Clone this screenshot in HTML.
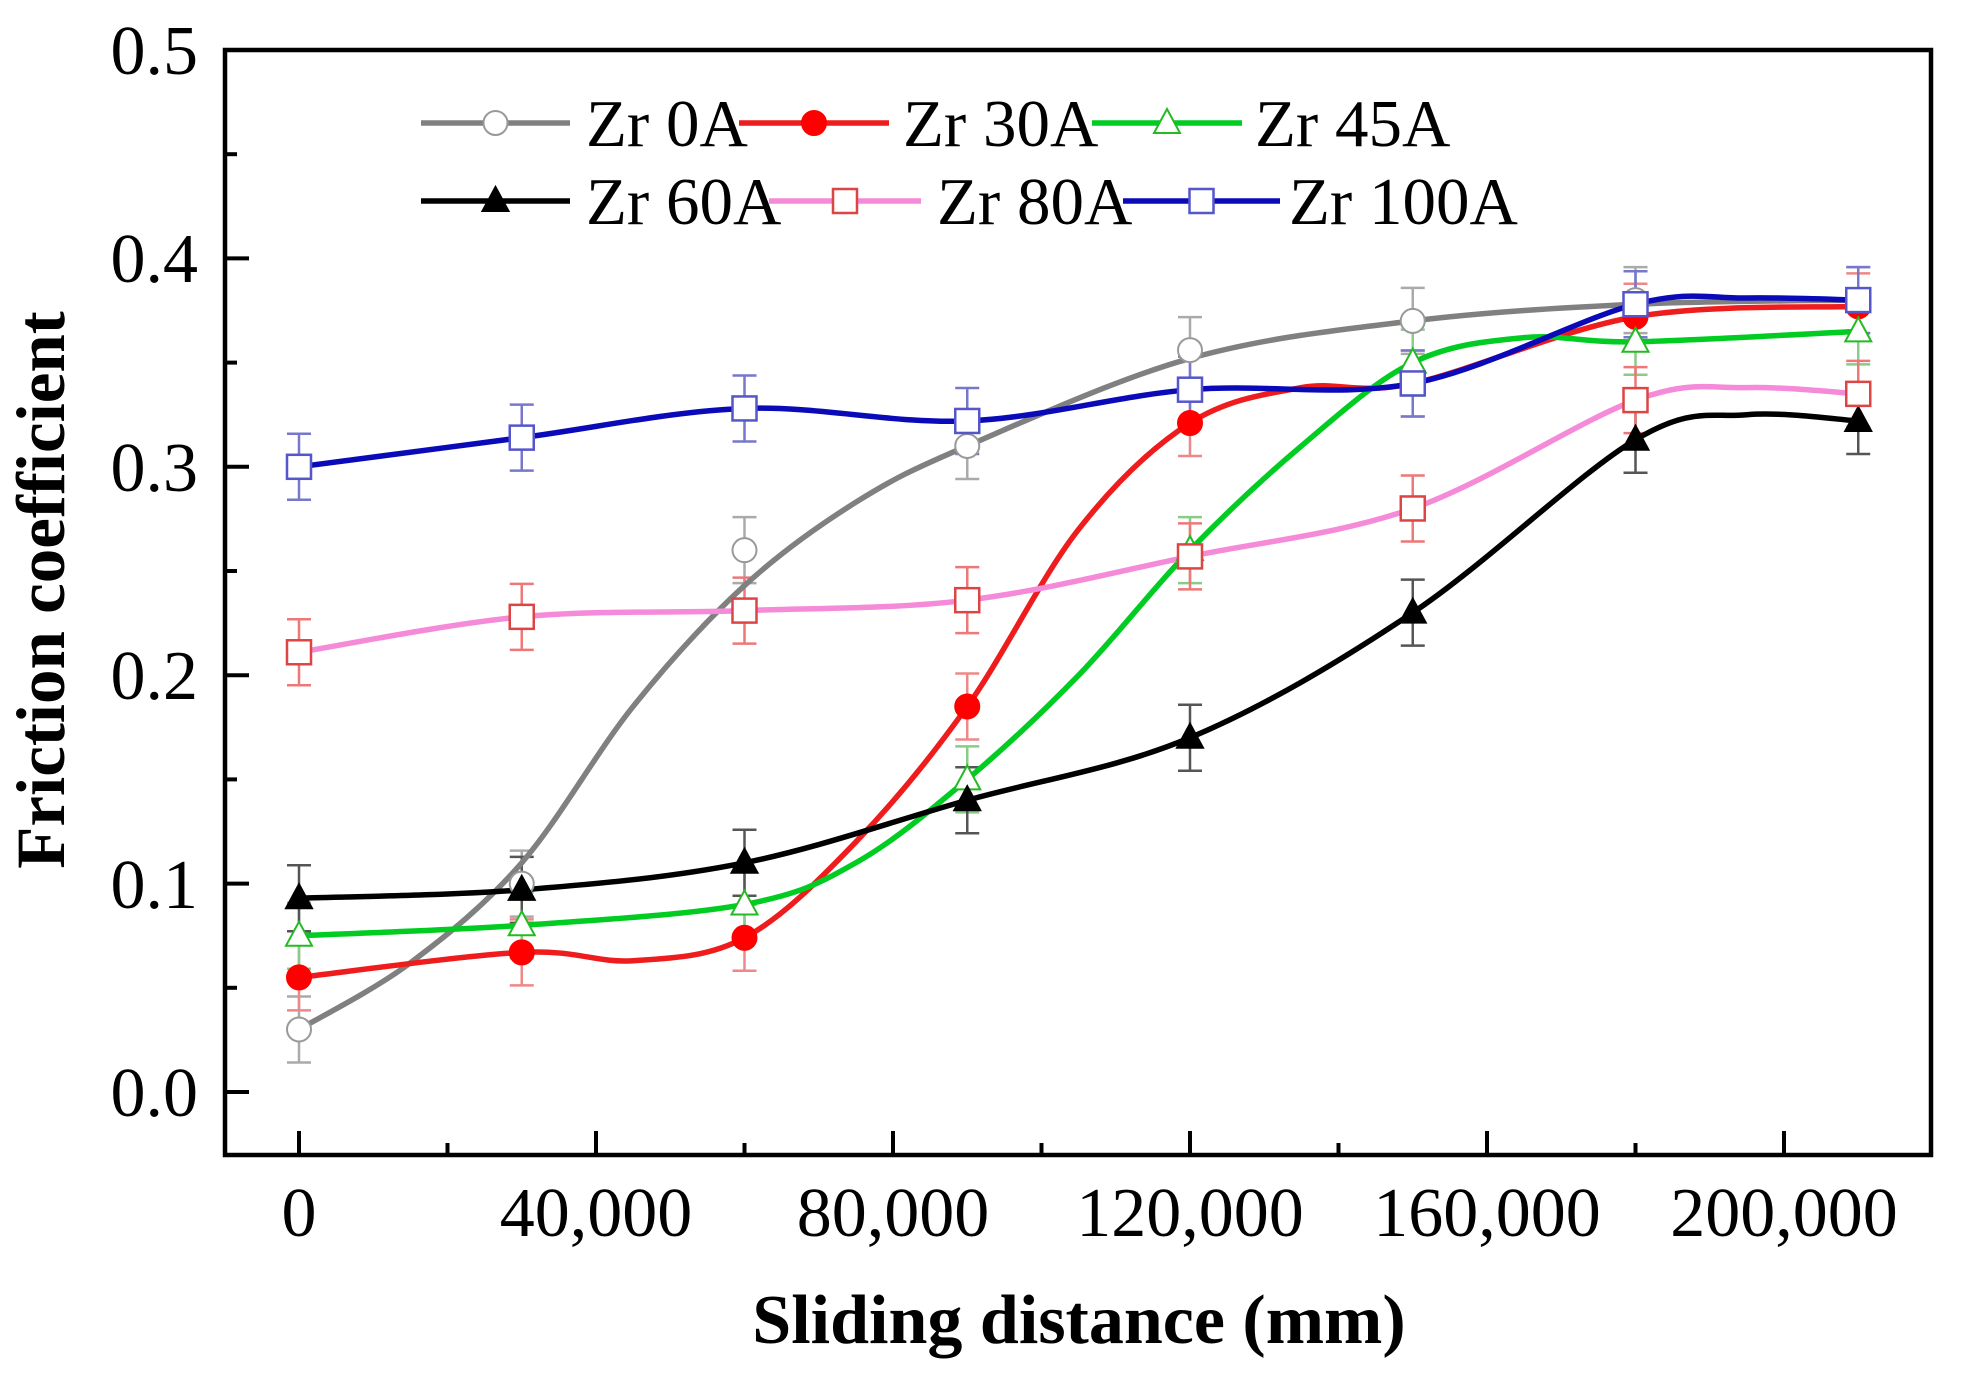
<!DOCTYPE html>
<html><head><meta charset="utf-8"><style>
html,body{margin:0;padding:0;background:#fff;}
svg{display:block;}
text{font-family:"Liberation Serif",serif;fill:#000;}
</style></head><body>
<svg id="s" width="1967" height="1389" viewBox="0 0 1967 1389" xmlns="http://www.w3.org/2000/svg">
<g id="err"></g><g id="lines"></g><g id="marks"></g>
<rect x="225" y="50" width="1706" height="1105" fill="none" stroke="#000" stroke-width="4.5"/>
<g id="ticks" stroke="#000" stroke-width="4"></g>
<g font-size="70" text-anchor="end">
<text x="198" y="1116">0.0</text><text x="198" y="908">0.1</text><text x="198" y="699">0.2</text>
<text x="198" y="491">0.3</text><text x="198" y="282">0.4</text><text x="198" y="74">0.5</text>
</g>
<g font-size="70" text-anchor="middle">
<text x="299" y="1236">0</text><text x="596" y="1236">40,000</text><text x="893" y="1236">80,000</text>
<text x="1190" y="1236">120,000</text><text x="1487" y="1236">160,000</text><text x="1784" y="1236">200,000</text>
</g>
<text x="1079" y="1343" font-size="70" font-weight="bold" text-anchor="middle">Sliding distance (mm)</text>
<text transform="translate(64,590) rotate(-90)" font-size="69" font-weight="bold" text-anchor="middle">Friction coefficient</text>
<g id="leg"></g>
<g font-size="67">
<text x="586" y="146">Zr 0A</text><text x="903" y="146">Zr 30A</text><text x="1255" y="146">Zr 45A</text>
<text x="586" y="224">Zr 60A</text><text x="937" y="224">Zr 80A</text><text x="1289" y="224">Zr 100A</text>
</g>
</svg>
<script>
const NS="http://www.w3.org/2000/svg";
const X=d=>299+d*297/40000, Y=v=>1092-v*2084;
function el(p,t,a){const e=document.createElementNS(NS,t);for(const k in a)e.setAttribute(k,a[k]);document.getElementById(p).appendChild(e);return e;}
function spline(pts){let d="M"+pts[0][0]+","+pts[0][1];for(let i=0;i<pts.length-1;i++){const p0=pts[Math.max(0,i-1)],p1=pts[i],p2=pts[i+1],p3=pts[Math.min(pts.length-1,i+2)];
const c1=[p1[0]+(p2[0]-p0[0])/6,p1[1]+(p2[1]-p0[1])/6],c2=[p2[0]-(p3[0]-p1[0])/6,p2[1]-(p3[1]-p1[1])/6];d+=` C${c1[0]},${c1[1]} ${c2[0]},${c2[1]} ${p2[0]},${p2[1]}`;}return d;}
function marker(g,type,x,y,col,fill){const r=12;
 if(type=="c")el(g,"circle",{cx:x,cy:y,r:r,fill:fill,stroke:col,"stroke-width":2});
 else if(type=="s")el(g,"rect",{x:x-r,y:y-r,width:2*r,height:2*r,fill:fill,stroke:col,"stroke-width":2.5});
 else el(g,"polygon",{points:`${x},${y-r-2} ${x+r+1},${y+r-2} ${x-r-1},${y+r-2}`,fill:fill,stroke:col,"stroke-width":2});}
const xs=[0,30000,60000,90000,120000,150000,180000,210000];
const S=[
 {c:"#808080",m:"c",mc:"#999",f:"#fff",ec:"#aaa",v:[.03,.10,.26,.31,.356,.37,.38,.38],
  cur:[[0,.03],[15000,.062],[30000,.11],[45000,.185],[60000,.243],[75000,.283],[90000,.31],[120000,.352],[150000,.37],[180000,.378],[210000,.38]]},
 {c:"#ee1c1c",m:"c",mc:"#f00",f:"#f00",ec:"#e88",v:[.055,.067,.074,.185,.321,.34,.372,.377],
  cur:[[0,.055],[30000,.067],[45000,.063],[60000,.074],[75000,.12],[90000,.185],[105000,.27],[120000,.321],[135000,.338],[150000,.34],[180000,.372],[210000,.377]]},
 {c:"#00cc22",m:"t",mc:"#2b2",f:"#fff",ec:"#8c8",v:[.075,.08,.09,.15,.26,.35,.36,.365],
  cur:[[0,.075],[30000,.08],[60000,.09],[75000,.11],[90000,.15],[105000,.2],[120000,.26],[135000,.31],[150000,.35],[165000,.362],[180000,.36],[210000,.365]]},
 {c:"#000",m:"t",mc:"#000",f:"#000",ec:"#555",v:[.093,.097,.11,.14,.17,.23,.313,.322],
  cur:[[0,.093],[30000,.097],[60000,.11],[90000,.14],[120000,.17],[150000,.23],[180000,.313],[195000,.325],[210000,.322]]},
 {c:"#f58ad8",m:"s",mc:"#d44",f:"#fff",ec:"#e77",v:[.211,.228,.231,.236,.257,.28,.332,.335],
  cur:[[0,.211],[30000,.228],[60000,.231],[90000,.236],[120000,.257],[150000,.28],[180000,.332],[195000,.338],[210000,.335]]},
 {c:"#0a0ab8",m:"s",mc:"#55c",f:"#fff",ec:"#77c",v:[.30,.314,.328,.322,.337,.34,.378,.38],
  cur:[[0,.30],[30000,.314],[60000,.328],[90000,.322],[120000,.337],[150000,.34],[180000,.378],[195000,.381],[210000,.38]]}
];
S.forEach(s=>{
 el("lines","path",{d:spline(s.cur.map(p=>[X(p[0]),Y(p[1])])),fill:"none",stroke:s.c,"stroke-width":5.5});
 xs.forEach((x,i)=>{const px=X(x),py=Y(s.v[i]),e=33;
  el("err","path",{d:`M${px},${py-e}V${py+e}M${px-12},${py-e}H${px+12}M${px-12},${py+e}H${px+12}`,stroke:s.ec,"stroke-width":2.5,fill:"none"});
  marker("marks",s.m,px,py,s.mc,s.f);});
});
for(let i=0;i<=10;i++){const y=Y(i*0.05),L=i%2?12:24;el("ticks","line",{x1:225,y1:y,x2:225+L,y2:y});}
for(let i=0;i<=10;i++){const x=X(i*20000),L=i%2?12:24;el("ticks","line",{x1:x,y1:1155,x2:x,y2:1155-L});}
const L=[[421,570,123,0],[739,889,123,1],[1092,1242,123,2],[421,570,201,3],[769,921,201,4],[1123,1280,201,5]];
L.forEach(l=>{const s=S[l[3]];el("leg","line",{x1:l[0],y1:l[2],x2:l[1],y2:l[2],stroke:s.c,"stroke-width":5.5});marker("leg",s.m,(l[0]+l[1])/2,l[2],s.mc,s.f);});
</script>
</body></html>
